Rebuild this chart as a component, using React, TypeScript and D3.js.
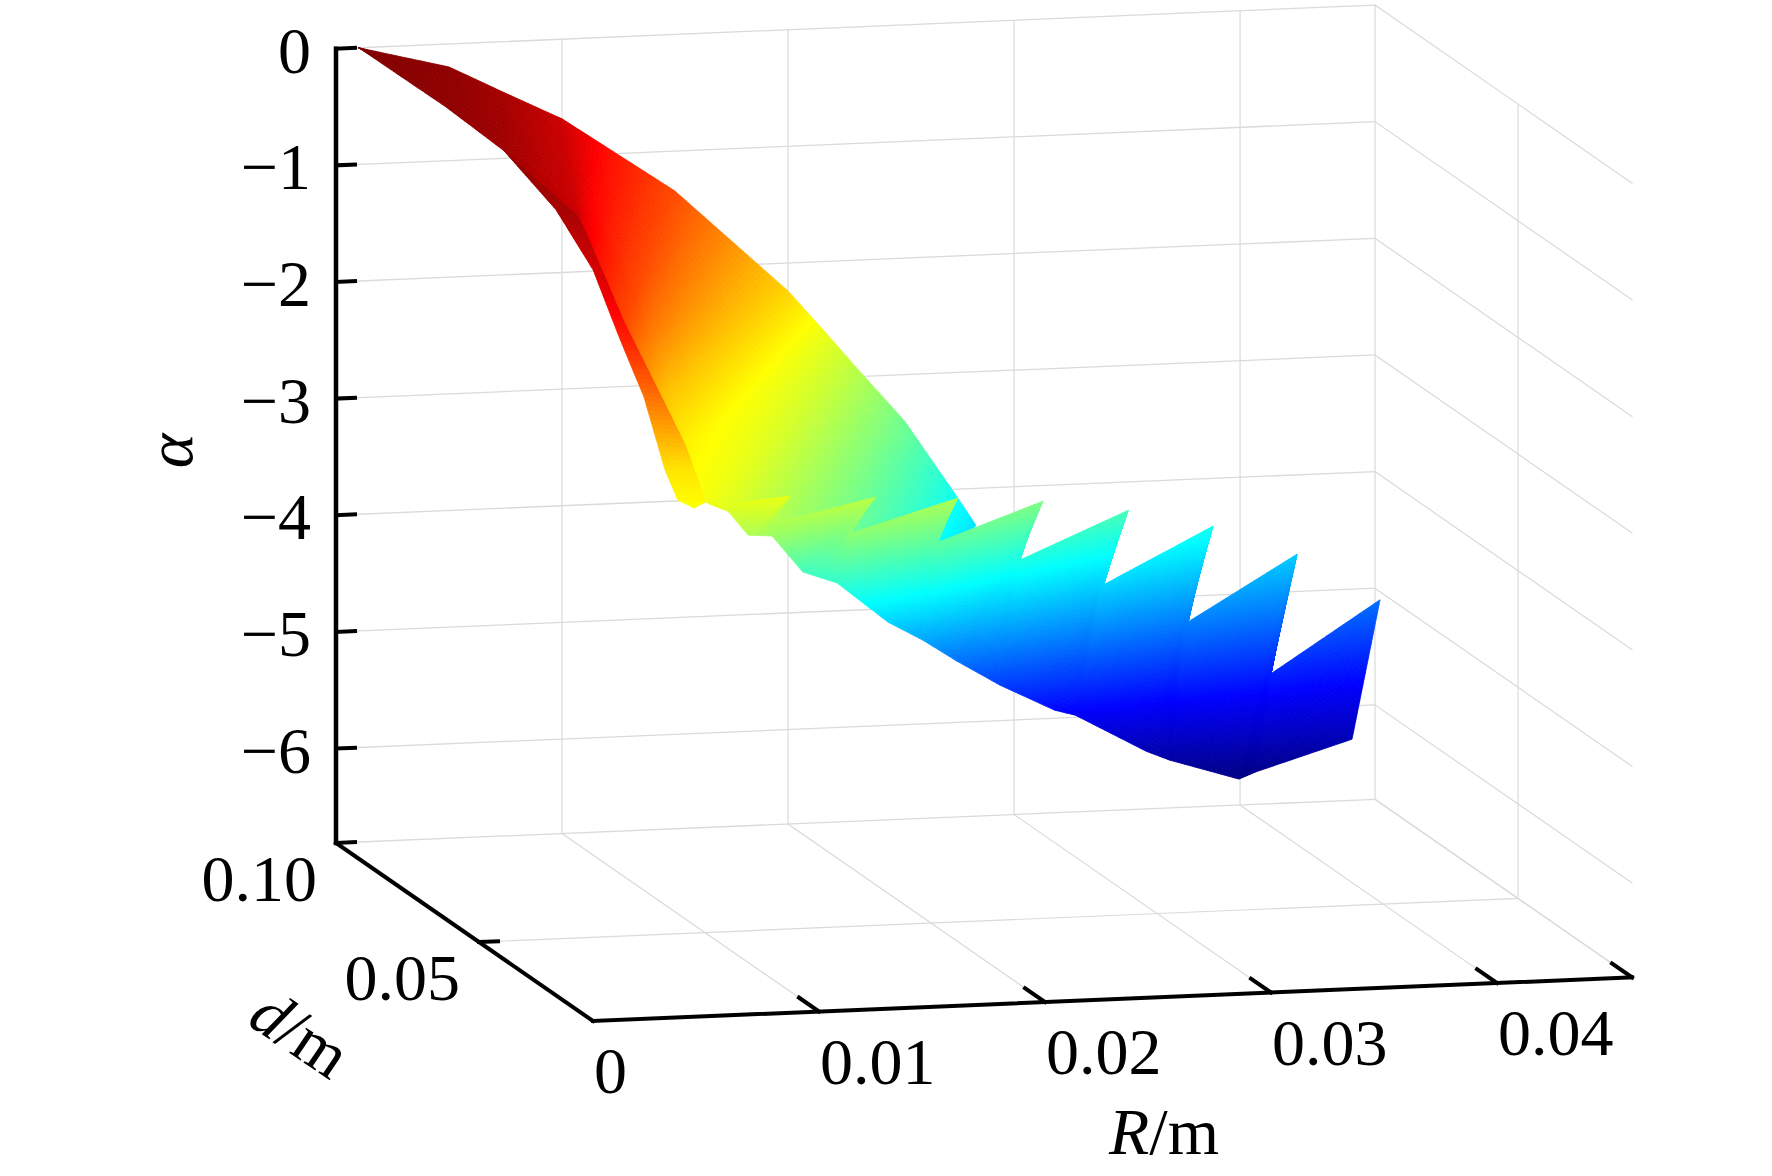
import React, { useEffect, useRef } from 'react';
import * as d3 from 'd3';

// axis ticks
const rTicks = [0, 0.01, 0.02, 0.03, 0.04];
const rMax = 0.04597;
const dTicks = [0.05, 0.1];
const zTicks = [0, -1, -2, -3, -4, -5, -6];
const zMin = -6.81;

// upper sheet, edge towards the back wall
const mainBackR = [0.001, 0.00432, 0.00614, 0.00872, 0.0113, 0.0147, 0.01972, 0.0216, 0.0229, 0.02517, 0.02719, 0.0282];
const mainBackD = [0.1, 0.0946, 0.0894, 0.0898, 0.097, 0.0977, 0.0978, 0.0997, 0.0995, 0.1, 0.0991, 0.0991];
const mainBackA = [0, -0.1, -0.25, -0.5, -0.85, -1.3, -2.2, -2.6, -2.9, -3.4, -4, -4.3];

// upper sheet, edge towards the front
const mainFrontR = [0.001, 0.00178, 0.00227, 0.00359, 0.00469, 0.00473, 0.00722, 0.00759, 0.00603, 0.0104, 0.01595, 0.02399];
const mainFrontD = [0.1, 0.0756, 0.0595, 0.0421, 0.0478, 0.0329, 0.0413, 0.0344, 0.0097, 0.0232, 0.041, 0.0784];
const mainFrontA = [0, -0.1, -0.2, -0.5, -0.8, -1.3, -2.07, -2.4, -2.55, -3, -3.5, -4.3];

// narrow fold on the left
const foldOuterR = [0.00158, 0.00123, 0.00126, 0.00147, 0.00276, 0.00451, 0.00429, 0.00519];
const foldOuterD = [0.054, 0.0284, 0.0124, 0.0031, 0.005, 0.0131, 0.0053, 0.0071];
const foldOuterA = [-0.1, -0.25, -0.55, -1, -1.55, -2.3, -2.45, -2.55];
const foldInnerR = [0.0025, 0.00251, 0.00217, 0.00258, 0.00367, 0.00582, 0.00535, 0.00535];
const foldInnerD = [0.0518, 0.0218, 0.003, 0.001, 0.0024, 0.0129, 0.0035, 0.0035];
const foldInnerA = [-0.2, -0.3, -0.6, -1, -1.55, -2.3, -2.45, -2.45];

// toothed sheet, top edge goes start, tip, notch, tip ...
const teethTopR = [0.00727, 0.01027, 0.01037, 0.01585, 0.01461, 0.01996, 0.01966, 0.02542, 0.02529, 0.03089, 0.03046, 0.03593, 0.03563, 0.04084, 0.04042, 0.04584];
const teethTopD = [0.0151, 0.0153, 0.0264, 0.0334, 0.0329, 0.0378, 0.0457, 0.0537, 0.0617, 0.0671, 0.0732, 0.0773, 0.085, 0.0867, 0.0928, 0.0972];
const teethTopA = [-2.65, -2.6, -3, -2.9, -3.2, -3, -3.5, -3.3, -3.95, -3.65, -4.4, -4, -4.97, -4.44, -5.57, -5.05];

// toothed sheet, bottom edge
const teethLowR = [0.00727, 0.00897, 0.01062, 0.01395, 0.01542, 0.0194, 0.02188, 0.02435, 0.02723, 0.03047, 0.03158, 0.03553, 0.03668, 0.0399, 0.04064, 0.0447];
const teethLowD = [0.0151, 0.0209, 0.0267, 0.0462, 0.0458, 0.0602, 0.0676, 0.0753, 0.083, 0.0894, 0.0911, 0.0975, 0.0983, 0.0996, 0.0998, 0.098];
const teethLowA = [-2.65, -3, -3.1, -3.7, -3.8, -4.4, -4.7, -5.03, -5.39, -5.74, -5.82, -6.27, -6.37, -6.58, -6.53, -6.25];

const FONT = '"Liberation Serif", "Times New Roman", serif';
const GRID = '#dadada';

const App: React.FC = () => {
  const svgRef = useRef<SVGSVGElement>(null);

  useEffect(() => {
    const svg = d3.select(svgRef.current);
    svg.selectAll('*').remove();

    // oblique view: R runs right, d runs towards the viewer, alpha runs down
    const rScale = d3.scaleLinear().domain([0, rMax]).range([0, 1039]);
    const dScale = d3.scaleLinear().domain([0, 0.05, 0.1]).range([257, 143, 0]);
    const zScale = d3.scaleLinear().domain([0, zMin]).range([48.7, 843]);
    const project = (R: number, d: number, z: number): [number, number] => {
      const a = rScale(R);
      const b = dScale(d);
      return [336 + a + b, zScale(z) - 0.042 * a + 0.6926 * b];
    };
    const jet = d3.scaleLinear<string>()
      .domain([0, -0.825, -2.475, -4.125, -5.775, -6.6])
      .range(['#800000', '#ff0000', '#ffff00', '#00ffff', '#0000ff', '#000080'])
      .clamp(true);

    const line3 = (g: any, p: [number, number, number], q: [number, number, number], color: string, w: number) => {
      const a = project(...p);
      const b = project(...q);
      g.append('line')
        .attr('x1', a[0]).attr('y1', a[1]).attr('x2', b[0]).attr('y2', b[1])
        .attr('stroke', color).attr('stroke-width', w).attr('stroke-linecap', 'square');
    };

    // Grid walls
    const grid = svg.append('g');
    [...zTicks, zMin].forEach(z => {
      line3(grid, [0, 0.1, z], [rMax, 0.1, z], GRID, 1.3);
      line3(grid, [rMax, 0.1, z], [rMax, 0, z], GRID, 1.2);
    });
    [...rTicks.slice(1), rMax].forEach(R => {
      line3(grid, [R, 0.1, 0], [R, 0.1, zMin], GRID, 1.2);
      line3(grid, [R, 0.1, zMin], [R, 0, zMin], GRID, 1.2);
    });
    line3(grid, [0, 0.05, zMin], [rMax, 0.05, zMin], GRID, 1.2);
    line3(grid, [rMax, 0.05, 0], [rMax, 0.05, zMin], GRID, 1.2);

    // Surface: strips between two edges, cut small so the colour follows alpha
    const surface = svg.append('g');
    const drawSheet = (
      r0: number[], d0: number[], a0: number[],
      r1: number[], d1: number[], a1: number[],
    ) => {
      for (let i = 0; i < r0.length - 1; i++) {
        const c = [
          project(r0[i], d0[i], a0[i]), project(r0[i + 1], d0[i + 1], a0[i + 1]),
          project(r1[i + 1], d1[i + 1], a1[i + 1]), project(r1[i], d1[i], a1[i]),
        ];
        const za = [a0[i], a0[i + 1], a1[i + 1], a1[i]];
        const dist = (p: number[], q: number[]) => Math.hypot(p[0] - q[0], p[1] - q[1]);
        const nu = Math.max(1, Math.ceil(Math.max(dist(c[0], c[1]), dist(c[3], c[2])) / 5));
        const nv = Math.max(1, Math.ceil(Math.max(dist(c[0], c[3]), dist(c[1], c[2])) / 5));
        const at = (u: number, v: number): number[] => {
          const mix = (k: (n: number) => number) =>
            (1 - u) * (1 - v) * k(0) + u * (1 - v) * k(1) + u * v * k(2) + (1 - u) * v * k(3);
          return [mix(n => c[n][0]), mix(n => c[n][1]), mix(n => za[n])];
        };
        for (let m = 0; m < nu; m++) {
          for (let n = 0; n < nv; n++) {
            const p = [at(m / nu, n / nv), at((m + 1) / nu, n / nv), at((m + 1) / nu, (n + 1) / nv), at(m / nu, (n + 1) / nv)];
            const color = jet(at((m + 0.5) / nu, (n + 0.5) / nv)[2]);
            surface.append('polygon')
              .attr('points', p.map(q => `${q[0].toFixed(1)},${q[1].toFixed(1)}`).join(' '))
              .attr('fill', color)
              .attr('stroke', color)
              .attr('stroke-width', 0.8);
          }
        }
      }
    };
    drawSheet(foldOuterR, foldOuterD, foldOuterA, foldInnerR, foldInnerD, foldInnerA);
    drawSheet(mainBackR, mainBackD, mainBackA, mainFrontR, mainFrontD, mainFrontA);
    drawSheet(teethTopR, teethTopD, teethTopA, teethLowR, teethLowD, teethLowA);

    // Axes
    const axes = svg.append('g');
    line3(axes, [0, 0.1, 0], [0, 0.1, zMin], '#000', 4.5);
    line3(axes, [0, 0.1, zMin], [0, 0, zMin], '#000', 4);
    line3(axes, [0, 0, zMin], [rMax, 0, zMin], '#000', 4);
    const zTickEnd = rScale.invert(19);
    [...zTicks, zMin].forEach(z => line3(axes, [0, 0.1, z], [zTickEnd, 0.1, z], '#000', 4));
    line3(axes, [0, 0.05, zMin], [zTickEnd, 0.05, zMin], '#000', 4);
    // ticks on the R axis point back along d
    const rTickEnd = dScale.invert(257 - 20);
    [...rTicks.slice(1), rMax].forEach(R => line3(axes, [R, 0, zMin], [R, rTickEnd, zMin], '#000', 4));

    // Labels
    const labels = svg.append('g').attr('font-family', FONT).attr('font-size', 66).attr('fill', '#000');
    zTicks.forEach(z => {
      const [x, y] = project(0, 0.1, z);
      labels.append('text').attr('x', x - 25).attr('y', y + 24).attr('text-anchor', 'end')
        .text(z === 0 ? '0' : `\u2212${Math.abs(z)}`);
    });
    dTicks.forEach(d => {
      const [x, y] = project(0, d, zMin);
      labels.append('text').attr('x', x - 19).attr('y', y + 58).attr('text-anchor', 'end').text(d3.format('.2f')(d));
    });
    rTicks.forEach(R => {
      const [x, y] = project(R, 0, zMin);
      labels.append('text').attr('x', x + 1).attr('y', y + 72).text(R === 0 ? '0' : d3.format('.2f')(R));
    });

    const rTitle = labels.append('text').attr('x', 1164).attr('y', 1154).attr('text-anchor', 'middle');
    rTitle.append('tspan').attr('font-style', 'italic').text('R');
    rTitle.append('tspan').text('/m');

    const dTitle = labels.append('text').attr('text-anchor', 'middle').attr('transform', 'translate(288,1052) rotate(34)');
    dTitle.append('tspan').attr('font-style', 'italic').text('d');
    dTitle.append('tspan').text('/m');

    labels.append('text').attr('text-anchor', 'middle').attr('font-style', 'italic')
      .attr('transform', 'translate(192,451) rotate(-90)').text('\u03b1');
  }, []);

  return (
    <svg
      ref={svgRef}
      width={1772}
      height={1176}
      viewBox="0 0 1772 1176"
      style={{ position: 'absolute', left: 0, top: 0, background: '#fff' }}
    />
  );
};

export default App;
